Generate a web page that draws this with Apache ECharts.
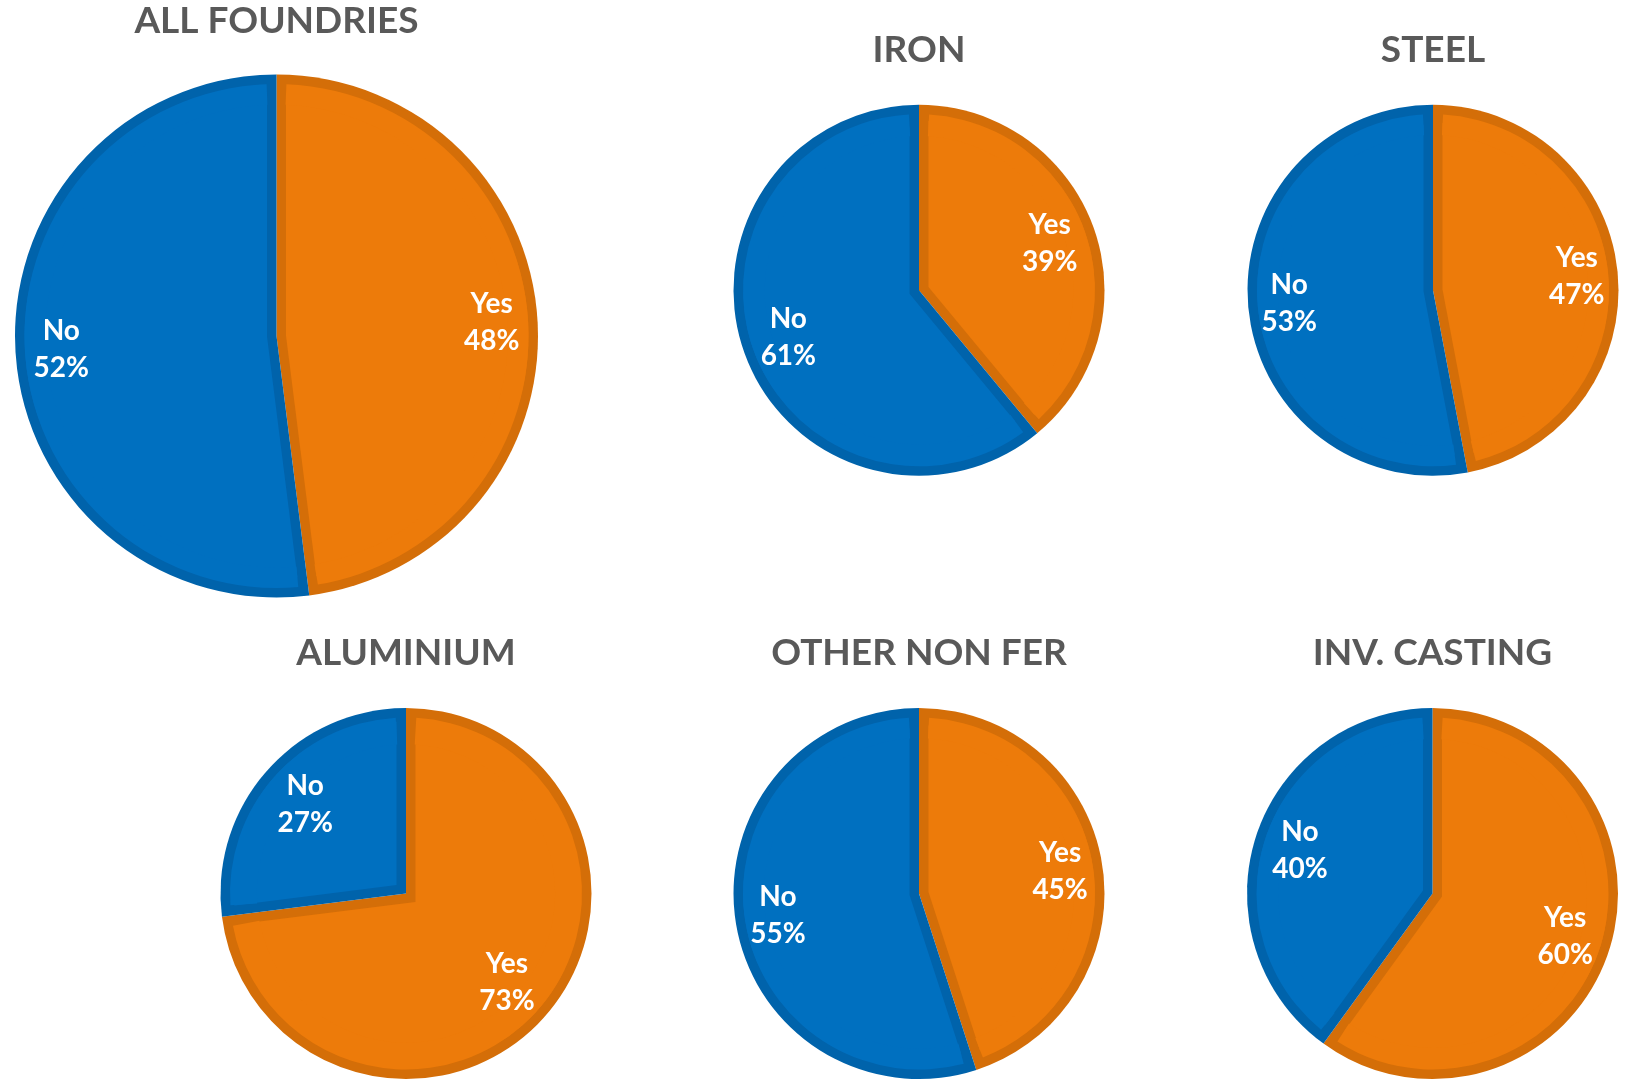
<!DOCTYPE html>
<html>
<head>
<meta charset="utf-8">
<script src="https://cdn.jsdelivr.net/npm/echarts@6/dist/echarts.min.js"></script>
<style>
html,body{margin:0;padding:0;background:#fff;}
#main{width:1630px;height:1080px;}
</style>
</head>
<body>
<div id="main"></div>
<script>
// ---- data ----
const chartTitles = ['ALL FOUNDRIES', 'IRON', 'STEEL', 'ALUMINIUM', 'OTHER NON FER', 'INV. CASTING'];
const categories = ['Yes', 'No'];
const yesValues = [48, 39, 47, 73, 45, 60];
const noValues = [52, 61, 53, 27, 55, 40];

// ---- layout (pixel geometry of each pie) ----
const layout = [
  { cx: 276.5, cy: 336, r: 261.5, ty: 21, labelInset: 12.5 },
  { cx: 919, cy: 290.3, r: 185.5, ty: 50, labelInset: 6 },
  { cx: 1433, cy: 290.3, r: 185.5, ty: 50, labelInset: 6 },
  { cx: 406, cy: 893.5, r: 185.5, ty: 653.5, labelInset: 6 },
  { cx: 919, cy: 893.5, r: 185.5, ty: 653.5, labelInset: 6 },
  { cx: 1432.5, cy: 893.5, r: 185.5, ty: 653.5, labelInset: 6 }
];

const fillColors = { Yes: '#ED7B0A', No: '#0070C0' };
const edgeColors = { Yes: '#D46E08', No: '#0063AB' };
const CLEAR = 'rgba(0,0,0,0)';
const BAND = 9.5;          // width of the darker inner edge of each slice
const LABEL_HALF_W = 29;   // half size of a two-line label box
const LABEL_HALF_H = 35;
const FONT = 'Lato, "Open Sans", sans-serif';

function sliceValues(i) {
  return { Yes: yesValues[i], No: noValues[i] };
}

// angular extent of each slice (clockwise from 12 o'clock), as the pie lays them out
function sliceAngles(i) {
  const vals = sliceValues(i);
  const total = categories.reduce((s, c) => s + vals[c], 0);
  let acc = 0;
  return categories.map(c => {
    const a0 = acc / total * 2 * Math.PI;
    acc += vals[c];
    const a1 = acc / total * 2 * Math.PI;
    return { name: c, mid: (a0 + a1) / 2, half: (a1 - a0) / 2 };
  });
}

function baseData(i, colorFor) {
  const vals = sliceValues(i);
  return categories.map((c, k) => ({ name: c, value: vals[c], itemStyle: { color: colorFor(c, k) } }));
}

// ring pieces: same slices, trimmed at each radial edge so the edge bands stay visible
function ringData(i, ringMid) {
  const vals = sliceValues(i);
  const total = categories.reduce((s, c) => s + vals[c], 0);
  const gapVal = (2 * BAND / ringMid) / (2 * Math.PI) * total;
  const out = [{ name: 'g0', value: gapVal / 2, itemStyle: { color: CLEAR } }];
  categories.forEach((c, k) => {
    out.push({ name: c, value: vals[c] - gapVal, itemStyle: { color: fillColors[c] } });
    out.push({ name: 'g' + (k + 1), value: k === categories.length - 1 ? gapVal / 2 : gapVal, itemStyle: { color: CLEAR } });
  });
  return out;
}

const common = { type: 'pie', silent: true, startAngle: 90, clockwise: true, avoidLabelOverlap: false, labelLine: { show: false } };

const series = [];
const titles = [];
layout.forEach((L, i) => {
  const center = [L.cx, L.cy];
  const geo = sliceAngles(i);

  // 1. whole pie in the darker edge colours
  series.push(Object.assign({}, common, {
    center: center, radius: [0, L.r], label: { show: false },
    itemStyle: { borderWidth: 0 },
    data: baseData(i, c => edgeColors[c])
  }));

  // 2. each slice's fill, shifted along its bisector so its sides sit BAND inside the slice edges
  let dMax = 0;
  geo.forEach((g, k) => {
    const d = BAND / Math.sin(g.half);
    dMax = Math.max(dMax, d);
    series.push(Object.assign({}, common, {
      center: [L.cx + d * Math.sin(g.mid), L.cy - d * Math.cos(g.mid)],
      radius: [0, L.r - BAND - d], label: { show: false },
      itemStyle: { borderWidth: 0 },
      data: baseData(i, (c, j) => (j === k ? fillColors[c] : CLEAR))
    }));
  });

  // 3. ring completing the fill up to BAND inside the rim
  const rIn = L.r - BAND - 2 * dMax - 1.5;
  const rOut = L.r - BAND;
  series.push(Object.assign({}, common, {
    center: center, radius: [rIn, rOut], label: { show: false },
    itemStyle: { borderWidth: 0 },
    data: ringData(i, (rIn + rOut) / 2)
  }));

  // 4. labels: one carrier per slice, placed so the label box sits just inside the rim
  geo.forEach((g, k) => {
    const ux = Math.sin(g.mid), uy = -Math.cos(g.mid);
    const vx = LABEL_HALF_W * Math.sign(ux), vy = LABEL_HALF_H * Math.sign(uy);
    const uv = ux * vx + uy * vy;
    const lim = L.r - L.labelInset;
    const t = -uv + Math.sqrt(uv * uv - (vx * vx + vy * vy) + lim * lim);
    series.push(Object.assign({}, common, {
      center: center, radius: [t - 3 - 5, t - 3 + 5],
      itemStyle: { color: CLEAR, borderWidth: 0 },
      label: {
        show: true, position: 'inside',
        color: '#ffffff', fontFamily: FONT, fontWeight: 'bold',
        fontSize: 28, lineHeight: 37,
        formatter: p => p.name + '\n' + Math.round(p.percent) + '%'
      },
      data: baseData(i, () => CLEAR).map((d, j) => Object.assign(d, { label: { show: j === k } }))
    }));
  });

  titles.push({
    text: chartTitles[i], left: L.cx, top: L.ty, padding: 0,
    textAlign: 'center', textVerticalAlign: 'middle',
    textStyle: { color: '#595959', fontFamily: FONT, fontWeight: 'bold', fontSize: 37 }
  });
});

const chart = echarts.init(document.getElementById('main'), null, { renderer: 'canvas' });
chart.setOption({
  backgroundColor: '#ffffff',
  animation: false,
  title: titles,
  series: series
});
</script>
</body>
</html>
